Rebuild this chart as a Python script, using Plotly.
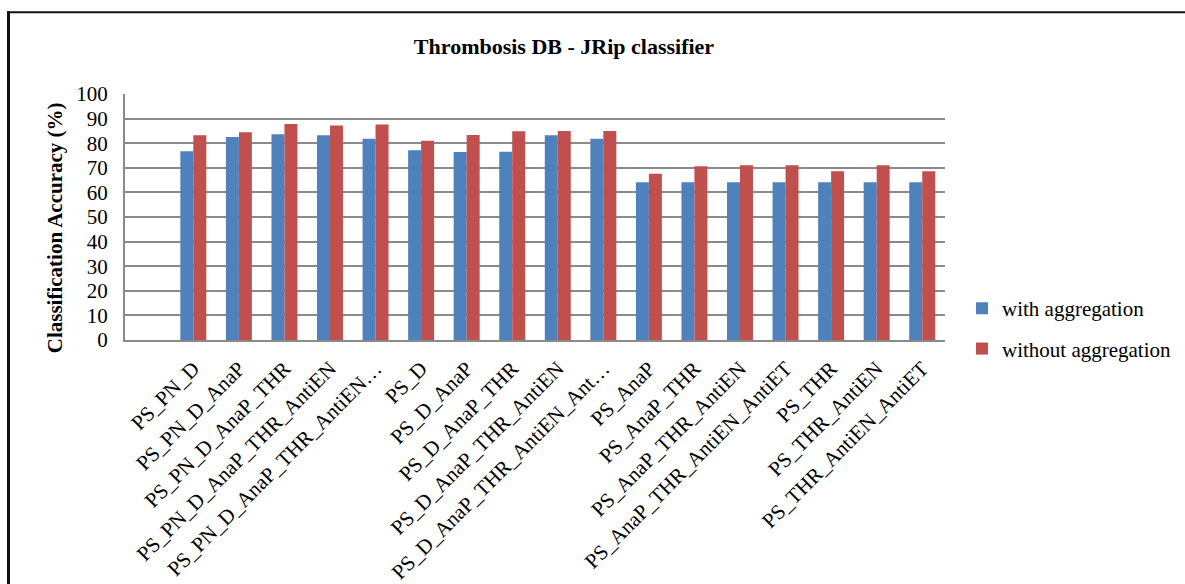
import plotly.graph_objects as go

# Feature-set combinations (first slot is left blank on the axis)
categories = [
    "",
    "PS_PN_D",
    "PS_PN_D_AnaP",
    "PS_PN_D_AnaP_THR",
    "PS_PN_D_AnaP_THR_AntiEN",
    "PS_PN_D_AnaP_THR_AntiEN…",
    "PS_D",
    "PS_D_AnaP",
    "PS_D_AnaP_THR",
    "PS_D_AnaP_THR_AntiEN",
    "PS_D_AnaP_THR_AntiEN_Ant…",
    "PS_AnaP",
    "PS_AnaP_THR",
    "PS_AnaP_THR_AntiEN",
    "PS_AnaP_THR_AntiEN_AntiET",
    "PS_THR",
    "PS_THR_AntiEN",
    "PS_THR_AntiEN_AntiET",
]

with_aggregation = [None, 76.7, 82.5, 83.6, 83.2, 81.8, 77.1, 76.4, 76.5, 83.2, 81.8,
                    64.1, 64.1, 64.1, 64.1, 64.1, 64.1, 64.1]
without_aggregation = [None, 83.2, 84.5, 87.8, 87.2, 87.6, 81.0, 83.3, 84.9, 85.0, 85.0,
                       67.6, 70.6, 71.0, 71.0, 68.6, 71.0, 68.6]

y_ticks = list(range(0, 101, 10))

W, H = 1185, 584
PL, PR, PT, PB = 125, 945, 93.5, 340  # plot area in pixels

FONT = "Liberation Serif"
positions = list(range(len(categories)))


def px_x(p):
    return (p - PL) / (PR - PL)


def px_y(p):
    return (PB - p) / (PB - PT)


fig = go.Figure()
fig.add_trace(go.Bar(x=positions, y=with_aggregation, name="with aggregation",
                     marker=dict(color="#4F81BD", line=dict(width=0)),
                     legendgroup="a"))
fig.add_trace(go.Bar(x=positions, y=without_aggregation, name="without aggregation",
                     marker=dict(color="#C0504D", line=dict(width=0)),
                     legendgroup="b"))

fig.update_layout(
    width=W, height=H,
    margin=dict(l=PL, r=W - PR, t=PT, b=H - PB, pad=0, autoexpand=False),
    paper_bgcolor="white", plot_bgcolor="white",
    barmode="group", bargap=0.43, bargroupgap=0,
    font=dict(family=FONT, color="black", size=20),
    title=dict(text="<b>Thrombosis DB - JRip classifier</b>",
               x=564 / W, xref="container", xanchor="center",
               y=1 - 46 / H, yref="container", yanchor="middle",
               font=dict(family=FONT, size=22, color="black")),
    showlegend=True,
    legend=dict(x=px_x(962), xanchor="left", y=px_y(288), yanchor="top",
                font=dict(family=FONT, size=21, color="black"),
                traceorder="grouped", tracegroupgap=10,
                bgcolor="rgba(0,0,0,0)", borderwidth=0),
    xaxis=dict(range=[-0.5, len(categories) - 0.5], tickmode="array",
               tickvals=positions, ticktext=categories, tickangle=-45,
               tickfont=dict(family=FONT, size=21, color="black"),
               showgrid=False, zeroline=False, showline=True,
               linecolor="#8a8a8a", linewidth=2, ticks="",
               ticklabelstandoff=6, automargin=False),
    yaxis=dict(range=[0, 100], tickmode="array", tickvals=y_ticks,
               tickfont=dict(family=FONT, size=21, color="black"),
               showgrid=True, gridcolor="#8a8a8a", gridwidth=2,
               zeroline=False, showline=True, linecolor="#8a8a8a",
               linewidth=2, ticks="", ticklabelstandoff=11, automargin=False),
)

fig.add_annotation(text="<b>Classification Accuracy (%)</b>", textangle=-90,
                   xref="paper", yref="paper", x=px_x(55), y=px_y(228),
                   xanchor="center", yanchor="middle", showarrow=False,
                   font=dict(family=FONT, size=21, color="black"))

# Outer frame: top and left edges
fig.add_shape(type="line", xref="paper", yref="paper",
              x0=px_x(7), x1=px_x(W + 40), y0=px_y(11.5), y1=px_y(11.5),
              line=dict(color="#111111", width=2))
fig.add_shape(type="line", xref="paper", yref="paper",
              x0=px_x(8.5), x1=px_x(8.5), y0=px_y(10.5), y1=px_y(H + 5),
              line=dict(color="#111111", width=3))

fig.write_html("out.html", config={"displayModeBar": False})
